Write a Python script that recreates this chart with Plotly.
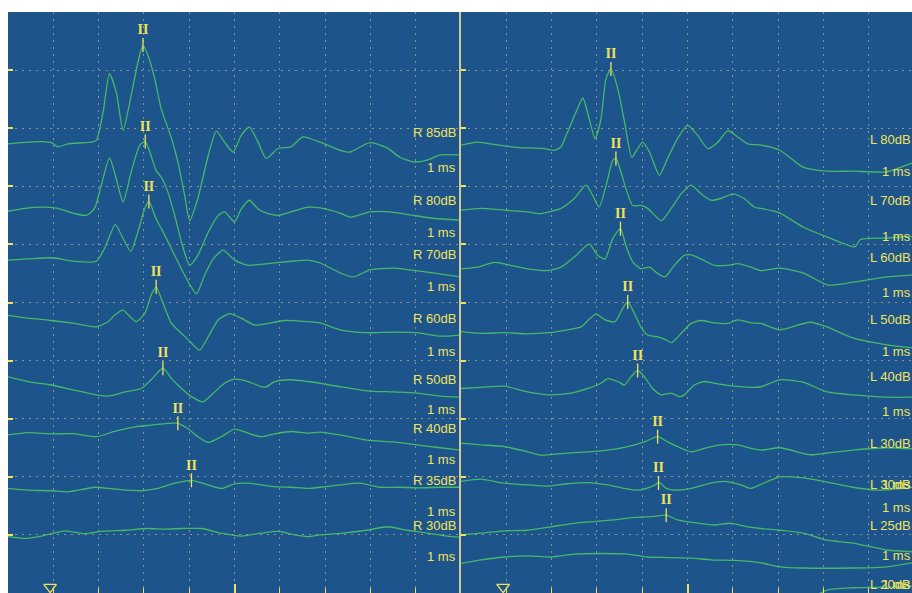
import numpy as np
import plotly.graph_objects as go

# ---------------- data (time in ms, amplitude in screen divisions) ----------------
r85_t = [0,0.44,0.74,0.96,1.10,1.32,1.84,1.95,2.10,2.24,2.39,2.54,2.72,2.87,2.98,3.09,3.24,3.38,3.61,3.75,3.90,4.01,4.19,4.42,4.60,4.78,4.97,5.15,5.33,5.52,5.70,5.96,6.25,6.51,6.89,7.33,7.55,7.99,8.37,8.65,8.94,9.25,9.54,9.98]
r85_v = [7.73,7.76,7.77,7.75,7.68,7.73,7.76,7.79,8.28,8.94,8.62,7.96,8.57,9.14,9.43,9.25,8.85,8.34,7.82,7.42,6.84,6.41,6.79,7.53,7.95,7.76,7.59,7.88,8.02,7.76,7.48,7.65,7.68,7.85,7.76,7.62,7.59,7.75,7.66,7.50,7.42,7.45,7.54,7.54]
r80_t = [0,0.37,0.74,1.10,1.47,1.73,1.91,2.06,2.24,2.39,2.54,2.72,2.91,3.03,3.13,3.27,3.38,3.53,3.68,3.83,4.01,4.19,4.42,4.64,4.78,5.00,5.15,5.33,5.52,5.74,5.96,6.25,6.62,6.89,7.33,7.55,7.99,8.43,8.87,9.38,9.98]
r80_v = [6.57,6.62,6.64,6.62,6.53,6.50,6.62,7.02,7.49,7.13,6.73,7.25,7.71,7.77,7.59,7.27,7.16,6.90,6.50,6.04,5.64,5.81,6.21,6.50,6.56,6.39,6.61,6.76,6.61,6.53,6.50,6.56,6.64,6.63,6.54,6.47,6.56,6.56,6.51,6.45,6.42]
r70_t = [0,0.44,0.96,1.47,1.95,2.13,2.37,2.54,2.71,2.91,3.02,3.11,3.27,3.46,3.68,3.90,4.16,4.34,4.53,4.75,5.00,5.30,5.74,6.25,6.62,6.89,7.33,7.62,7.99,8.50,8.87,9.38,9.98]
r70_v = [5.73,5.75,5.77,5.71,5.71,5.93,6.34,6.10,5.88,6.33,6.62,6.74,6.44,6.16,5.81,5.47,5.15,5.47,5.75,5.90,5.73,5.64,5.67,5.71,5.73,5.68,5.51,5.44,5.56,5.59,5.56,5.51,5.44]
r60_t = [0,0.44,0.96,1.47,1.95,2.21,2.35,2.54,2.69,2.83,3.02,3.16,3.27,3.42,3.61,3.83,4.05,4.23,4.42,4.64,4.89,5.15,5.45,5.74,6.11,6.62,6.89,7.33,7.92,8.50,9.03,9.54,9.98]
r60_v = [4.78,4.73,4.69,4.64,4.58,4.67,4.78,4.87,4.76,4.67,4.81,5.13,5.27,4.99,4.64,4.47,4.30,4.18,4.41,4.70,4.81,4.73,4.61,4.64,4.69,4.67,4.65,4.53,4.48,4.49,4.48,4.42,4.44]
r50_t = [0,0.44,0.96,1.47,1.95,2.21,2.58,2.94,3.16,3.42,3.61,3.83,4.05,4.30,4.56,4.78,5.00,5.30,5.67,5.89,6.25,6.62,6.89,7.33,7.92,8.50,9.03,9.54,9.98]
r50_v = [3.72,3.64,3.58,3.49,3.41,3.39,3.46,3.52,3.67,3.87,3.69,3.52,3.38,3.29,3.46,3.61,3.68,3.64,3.54,3.64,3.67,3.64,3.61,3.55,3.48,3.46,3.44,3.39,3.37]
r40_t = [0,0.44,0.96,1.47,1.95,2.35,2.80,3.16,3.53,3.75,3.97,4.19,4.42,4.71,5.00,5.30,5.59,5.89,6.25,6.62,6.89,7.33,7.92,8.50,9.03,9.54,9.98]
r40_v = [2.72,2.76,2.74,2.74,2.69,2.78,2.86,2.89,2.92,2.92,2.83,2.69,2.59,2.69,2.82,2.75,2.69,2.74,2.78,2.75,2.77,2.72,2.63,2.60,2.55,2.50,2.46]
r35_t = [0,0.44,0.96,1.32,1.91,2.35,2.94,3.31,3.68,4.05,4.34,4.71,5.00,5.30,5.59,5.89,6.25,6.62,6.89,7.33,7.77,8.21,8.65,9.09,9.54,9.98]
r35_v = [1.80,1.77,1.76,1.74,1.82,1.79,1.76,1.80,1.89,1.94,1.88,1.80,1.88,1.89,1.86,1.83,1.82,1.80,1.82,1.86,1.89,1.82,1.82,1.81,1.82,1.82]
r30_t = [0,0.37,0.74,1.25,1.69,2.06,2.58,3.09,3.46,3.83,4.27,4.71,5.15,5.59,5.96,6.33,6.62,6.89,7.40,7.92,8.37,8.81,9.25,9.69,9.98]
r30_v = [0.97,0.94,0.98,1.07,1.02,1.06,1.08,1.11,1.10,1.11,1.11,1.03,0.98,1.03,1.06,1.00,0.97,1.00,1.03,1.08,1.14,1.08,1.03,0.98,0.96]

l80_t = [0,0.37,0.74,1.10,1.47,1.84,2.06,2.21,2.35,2.54,2.69,2.83,2.96,3.09,3.20,3.31,3.46,3.61,3.77,3.90,4.01,4.16,4.38,4.56,4.78,5.00,5.22,5.45,5.67,5.89,6.11,6.33,6.62,7.04,7.55,8.08,8.65,9.40,9.85,9.96]
l80_v = [7.71,7.76,7.72,7.68,7.66,7.65,7.62,7.68,7.93,8.28,8.52,8.16,7.82,8.16,8.85,9.02,8.68,8.11,7.50,7.65,7.76,7.59,7.19,7.48,7.82,8.05,7.88,7.65,7.76,7.96,7.85,7.73,7.71,7.62,7.33,7.26,7.26,7.25,7.37,7.40]
l70_t = [0,0.44,0.96,1.47,1.73,1.99,2.21,2.50,2.76,2.91,3.05,3.24,3.35,3.42,3.53,3.64,3.79,3.97,4.12,4.42,4.64,4.86,5.08,5.30,5.52,5.74,6.00,6.25,6.48,6.62,7.04,7.55,8.08,8.70,8.81,9.40,9.96]
l70_v = [6.59,6.62,6.59,6.56,6.53,6.57,6.62,6.79,7.02,6.84,6.64,7.13,7.45,7.48,7.25,6.96,6.67,6.67,6.62,6.41,6.62,6.87,7.02,6.87,6.76,6.79,6.87,6.79,6.64,6.62,6.54,6.30,6.13,5.96,6.08,6.11,6.14]
l60_t = [0,0.37,0.74,1.10,1.47,1.91,2.21,2.54,2.83,3.02,3.18,3.35,3.52,3.64,3.79,3.97,4.16,4.34,4.50,4.71,4.93,5.08,5.30,5.59,5.89,6.11,6.40,6.62,7.04,7.55,8.10,8.65,9.40,9.96]
l60_v = [5.58,5.61,5.69,5.64,5.58,5.55,5.61,5.81,6.01,5.81,5.75,6.10,6.27,5.98,5.70,5.58,5.61,5.50,5.44,5.64,5.81,5.82,5.75,5.64,5.64,5.67,5.61,5.55,5.59,5.51,5.30,5.35,5.44,5.47]
l50_t = [0,0.44,0.96,1.47,1.95,2.35,2.65,2.83,2.98,3.16,3.40,3.57,3.68,3.83,3.97,4.12,4.34,4.49,4.65,4.86,5.08,5.30,5.59,5.89,6.11,6.40,6.62,7.04,7.70,8.08,8.65,9.40,9.96]
l50_v = [4.50,4.47,4.48,4.46,4.48,4.53,4.58,4.71,4.80,4.71,4.67,4.90,5.01,4.81,4.58,4.44,4.41,4.37,4.31,4.47,4.64,4.69,4.65,4.64,4.70,4.65,4.64,4.53,4.66,4.58,4.39,4.27,4.22]
l40_t = [0,0.44,0.96,1.47,1.95,2.43,2.80,3.09,3.24,3.46,3.61,3.75,3.90,4.05,4.23,4.42,4.64,4.82,4.93,5.15,5.37,5.67,6.03,6.40,6.62,7.04,7.55,8.08,8.65,9.40,9.96]
l40_v = [3.52,3.54,3.56,3.46,3.41,3.44,3.52,3.61,3.69,3.64,3.58,3.72,3.83,3.72,3.52,3.41,3.44,3.38,3.41,3.58,3.64,3.60,3.56,3.54,3.55,3.67,3.63,3.46,3.41,3.37,3.37]
l30_t = [0,0.44,0.96,1.47,1.77,2.21,2.80,3.24,3.68,4.05,4.34,4.56,4.78,5.08,5.37,5.74,6.11,6.40,6.62,7.04,7.70,8.08,8.65,9.40,9.96]
l30_v = [2.58,2.55,2.52,2.43,2.37,2.40,2.43,2.46,2.52,2.60,2.69,2.60,2.52,2.43,2.49,2.55,2.55,2.49,2.46,2.50,2.38,2.41,2.46,2.50,2.48]
l30b_t = [0,0.44,0.96,1.47,1.95,2.35,2.80,3.24,3.61,3.90,4.23,4.38,4.53,4.78,5.08,5.45,5.81,6.18,6.40,6.62,7.04,7.55,8.08,8.65,9.18,9.96]
l30b_v = [1.92,1.96,1.89,1.86,1.84,1.88,1.90,1.86,1.80,1.77,1.84,1.90,1.80,1.77,1.80,1.88,1.92,1.86,1.80,1.87,2.00,1.98,1.91,1.82,1.77,1.82]
l25_t = [0,0.44,0.96,1.47,1.99,2.50,2.94,3.38,3.83,4.27,4.53,4.78,5.15,5.59,5.96,6.33,6.62,7.04,7.55,8.08,8.65,9.40,9.96]
l25_v = [1.00,1.03,1.07,1.08,1.14,1.20,1.23,1.26,1.30,1.32,1.34,1.26,1.21,1.17,1.20,1.14,1.11,1.08,1.03,0.91,0.86,0.74,0.71]
l20_t = [0,0.44,0.96,1.47,1.99,2.50,3.09,3.68,4.12,4.56,5.08,5.52,6.03,6.62,7.04,7.55,8.65,9.40,9.96]
l20_v = [0.51,0.57,0.62,0.64,0.62,0.67,0.68,0.67,0.62,0.61,0.60,0.57,0.56,0.52,0.45,0.43,0.43,0.45,0.52]
# a further sweep that only enters the screen at the lower right corner
l20b_t = [7.60, 8.08, 8.65, 9.40, 9.96]
l20b_v = [-0.15, 0.05, 0.09, 0.10, 0.12]

right_names = ["R 85dB", "R 80dB", "R 70dB", "R 60dB", "R 50dB", "R 40dB", "R 35dB", "R 30dB"]
left_names = ["L 80dB", "L 70dB", "L 60dB", "L 50dB", "L 40dB", "L 30dB", "L 30dB", "L 25dB", "L 20dB"]
# wave II latencies (ms); None = not marked
right_wave2 = [2.98, 3.03, 3.11, 3.27, 3.42, 3.75, 4.05, None]
left_wave2 = [3.31, 3.42, 3.52, 3.68, 3.90, 4.34, 4.36, 4.53, None, None]
stim_onset = 0.93
ms_ticks = [1, 2, 3, 4, 5, 6, 7, 8, 9]

right_ear = [(r85_t, r85_v), (r80_t, r80_v), (r70_t, r70_v), (r60_t, r60_v),
             (r50_t, r50_v), (r40_t, r40_v), (r35_t, r35_v), (r30_t, r30_v)]
left_ear = [(l80_t, l80_v), (l70_t, l70_v), (l60_t, l60_v), (l50_t, l50_v),
            (l40_t, l40_v), (l30_t, l30_v), (l30b_t, l30b_v), (l25_t, l25_v), (l20_t, l20_v),
            (l20b_t, l20b_v)]

# ---------------- styling ----------------
BG = "#1e548c"
TRACE = "#45b967"
YEL = "#f0e35a"
GRID = "rgba(190,172,140,0.7)"
DIV = "#d2c894"

fig = go.Figure()

def add_panel(ear, lat, xa, ya):
    px_, py_ = [], []
    for (t, v), l in zip(ear, lat):
        fig.add_trace(go.Scatter(x=t, y=v, mode="lines", xaxis=xa, yaxis=ya,
                                 line=dict(color=TRACE, width=1.3, shape="spline", smoothing=0.6),
                                 hoverinfo="skip", showlegend=False))
        if l is not None:
            px_.append(l)
            py_.append(float(np.interp(l, t, v)))
    fig.add_trace(go.Scatter(x=px_, y=py_, mode="markers+text", xaxis=xa, yaxis=ya,
                             text=["II"] * len(px_), textposition="top center",
                             textfont=dict(family="Liberation Serif", size=14, color=YEL, weight="bold"),
                             marker=dict(symbol="line-ns-open", size=10, color=YEL,
                                         line=dict(color=YEL, width=1.3)),
                             hoverinfo="skip", showlegend=False, cliponaxis=False))
    fig.add_trace(go.Scatter(x=[stim_onset], y=[0.1], mode="markers", xaxis=xa, yaxis=ya,
                             marker=dict(symbol="triangle-down-open", size=11, color=YEL,
                                         line=dict(color=YEL, width=1.3)),
                             hoverinfo="skip", showlegend=False))

add_panel(right_ear, right_wave2, "x", "y")
add_panel(left_ear, left_wave2, "x2", "y2")

W, H = 912, 593
ML, MT = 8, 12
split = 453 / (W - ML)

# text labels at the right end of each panel
lab_right_y = [7.92, 6.76, 5.82, 4.73, 3.67, 2.84, 1.94, 1.17]
ms_right_y = [7.33, 6.20, 5.27, 4.15, 3.15, 2.29, 1.41, 0.62]
lab_left_y = [7.80, 6.76, 5.78, 4.70, 3.72, 2.58, 1.86, 1.17, 0.15]
ms_left_y = [7.25, 6.13, 5.18, 4.15, 3.12, 1.86, 1.47, 0.64, 0.15]

ann = []
font = dict(family="Liberation Sans", size=13, color=YEL)
for name, ly, my in zip(right_names, lab_right_y, ms_right_y):
    ann.append(dict(text=name, xref="paper", yref="y", x=split, y=ly, xanchor="right",
                    yanchor="middle", showarrow=False, xshift=-3, font=font))
    ann.append(dict(text="1 ms", xref="paper", yref="y", x=split, y=my, xanchor="right",
                    yanchor="middle", showarrow=False, xshift=-3, font=font))
for name, ly, my in zip(left_names, lab_left_y, ms_left_y):
    ann.append(dict(text=name, xref="paper", yref="y", x=1, y=ly, xanchor="right",
                    yanchor="middle", showarrow=False, xshift=1, font=font))
    ann.append(dict(text="1 ms", xref="paper", yref="y", x=1, y=my, xanchor="right",
                    yanchor="middle", showarrow=False, xshift=1, font=font))

xcommon = dict(showgrid=False, zeroline=False,
               tickvals=[5], ticks="inside", ticklen=9, tickcolor=YEL, tickwidth=1.5,
               minor=dict(tickvals=ms_ticks, ticks="inside", ticklen=5, tickcolor=YEL, tickwidth=1,
                          showgrid=True, gridcolor=GRID, griddash="2px,5px", gridwidth=1),
               showticklabels=False, showline=False, fixedrange=True)
ycommon = dict(range=[0, 10], showgrid=True, gridcolor=GRID, griddash="2px,5px", gridwidth=1,
               zeroline=False, tickvals=[1, 2, 3, 4, 5, 6, 7, 8, 9], ticks="inside", ticklen=5,
               tickcolor=YEL, tickwidth=2, showticklabels=False, fixedrange=True)

fig.update_layout(
    width=W, height=H,
    margin=dict(l=ML, r=0, t=MT, b=0),
    paper_bgcolor="white", plot_bgcolor=BG,
    xaxis=dict(domain=[0, split], range=[0, 10], anchor="y", **xcommon),
    xaxis2=dict(domain=[split, 1], range=[0, (W - ML - 453) / 45.3], anchor="y2", **xcommon),
    yaxis=dict(domain=[0, 1], anchor="x", showline=False, **ycommon),
    yaxis2=dict(domain=[0, 1], anchor="x2", showline=True, linecolor=DIV, linewidth=1.5, **ycommon),
    annotations=ann,
    showlegend=False,
)

fig.write_html("out.html")
